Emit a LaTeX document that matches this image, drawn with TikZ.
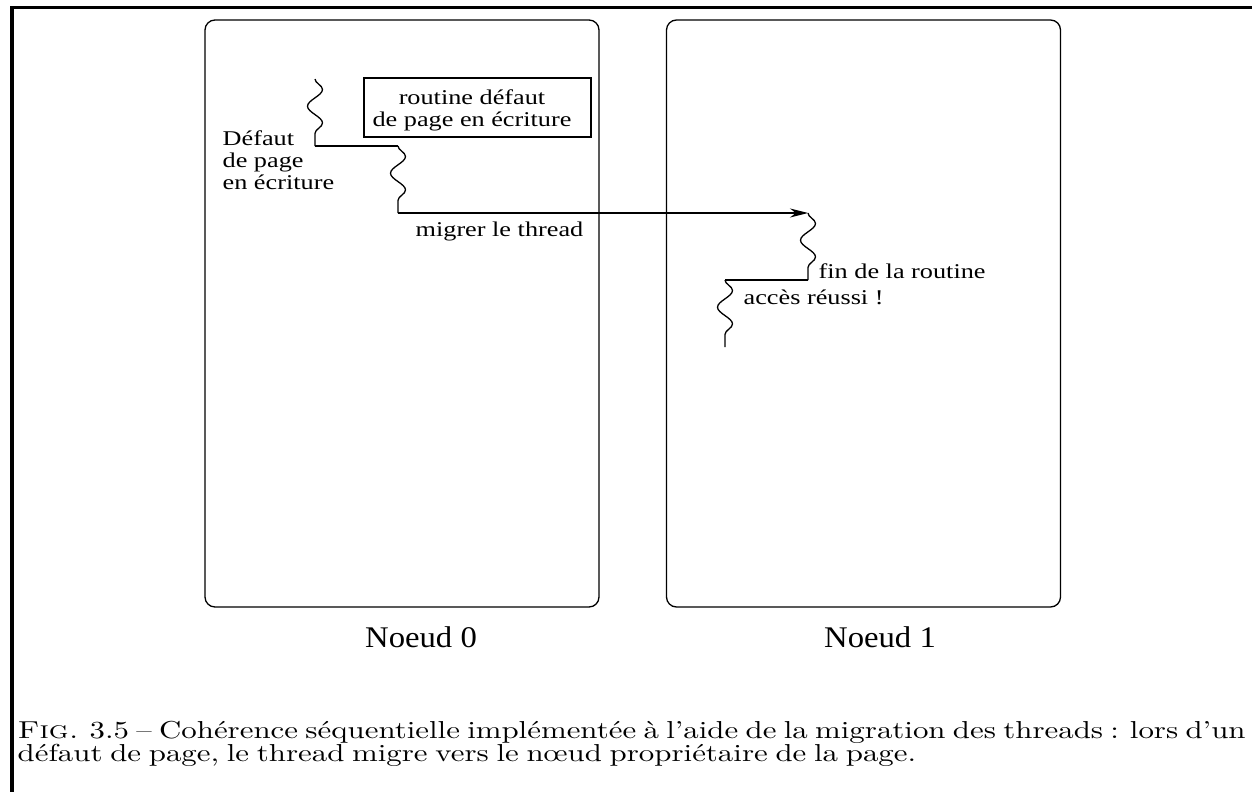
\documentclass[tikz,border=0pt]{standalone}
\usepackage{fontspec}
\newfontfamily\figfont[FakeStretch=1.25]{Liberation Serif}
\newfontfamily\namefont[FakeStretch=1.09]{Liberation Serif}
\newfontfamily\capfont[FakeStretch=1.26, WordSpace=0.75, SmallCapsFont=lmromancaps10-regular.otf]{lmroman10-regular.otf}
\usetikzlibrary{arrows.meta,decorations.pathmorphing}

\tikzset{
  nodebox/.style={draw, rounded corners=10pt, minimum width=394pt, minimum height=587pt, inner sep=0pt},
  thread/.style={decorate, decoration={snake, segment length=33.5pt, amplitude=7.5pt}},
  figtext/.style={font=\figfont\fontsize{21}{22}\selectfont, inner sep=0pt, align=left},
  nodename/.style={font=\namefont\fontsize{30}{34}\selectfont, inner sep=0pt},
}

\begin{document}
\begin{tikzpicture}[x=1pt, y=-1pt, line width=1.3pt]
\useasboundingbox (0,0) rectangle (1252,792);

% page frame
\draw[line width=3.5pt] (1252,7.5) -- (12,7.5) -- (12,792);

\node[nodebox] (n0) at (402,313.5) {};
\node[nodebox] (n1) at (863.5,313.5) {};
\node[nodename, anchor=base] (lab0) at (421,647) {Noeud 0};
\node[nodename, anchor=base] (lab1) at (880,647) {Noeud 1};

% thread corners
\coordinate (t0) at (315,79);
\coordinate (t1) at (315,146);
\coordinate (t2) at (398,146);
\coordinate (t3) at (398,213);
\coordinate (t4) at (808,213);
\coordinate (t5) at (808,280);
\coordinate (t6) at (725,280);
\coordinate (t7) at (725,347);

\draw[thread] (t0) -- (t1); %fault
\draw (t1) -- (t2);
\draw[thread] (t2) -- (t3); %handler
\draw[-{Stealth[length=18pt,width=9pt]}] (t3) -- (t4); %migrate
\draw[thread] (t4) -- (t5); %end of handler
\draw (t5) -- (t6);
\draw[thread] (t6) -- (t7); %access

\node[draw, minimum width=227pt, minimum height=59pt] (rtn) at (477.5,107.5) {};
\node[figtext, align=center] (rtntext) at (472,110) {routine défaut\\de page en écriture};
\node[figtext, anchor=base west] (flt) at (222,189) {Défaut\\de page\\en écriture};
\node[figtext, anchor=base west] (mig) at (415,236) {migrer le thread};
\node[figtext, anchor=base west] (fin) at (818,278) {fin de la routine};
\node[figtext, anchor=base west] (ok) at (743,304) {accès réussi !};

\node[anchor=base west, inner sep=0pt, text width=1228pt, align=justify,
      font=\capfont\fontsize{24.5}{23}\selectfont] (cap) at (17,738)
  {\textsc{Fig.} 3.5 – Cohérence séquentielle implémentée à l’aide de la migration des threads : lors d’un\linebreak
   défaut de page, le thread migre vers le nœud propriétaire de la page.};

\end{tikzpicture}
\end{document}
